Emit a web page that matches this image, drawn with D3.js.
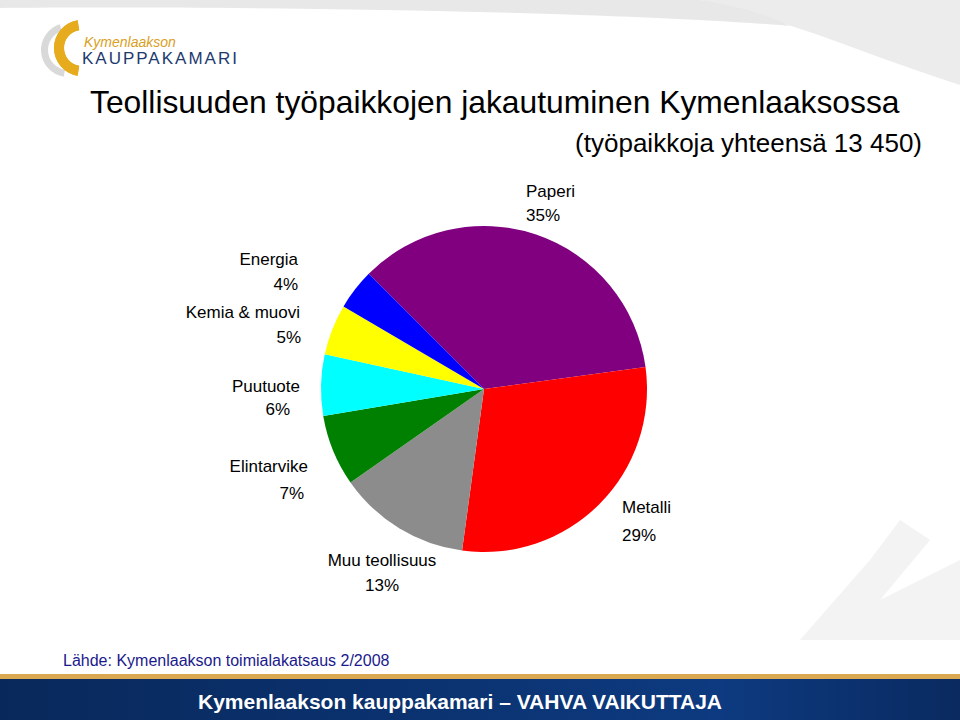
<!DOCTYPE html>
<html><head><meta charset="utf-8">
<script src="https://cdn.jsdelivr.net/npm/d3@7"></script>
<style>body{margin:0;background:#fff}svg{display:block}text{font-family:"Liberation Sans",Arial,sans-serif}</style>
</head><body>
<script>
const categories = ["Paperi","Metalli","Muu teollisuus","Elintarvike","Puutuote","Kemia & muovi","Energia"];
const values = [35,29,13,7,6,5,4];
const pctLabels = ["35%","29%","13%","7%","6%","5%","4%"];
const colors = ["#800080","#ff0000","#8c8c8c","#008000","#00ffff","#ffff00","#0000ff"];
const labelPos = [[526,197,526,221,"start"],[622,513,622,541,"start"],[382,566,382,591,"middle"],[308,472,304,499,"end"],[300,392,290,415,"end"],[300,318,301,343,"end"],[298,265,298,290,"end"]];

const W=960,H=720;
const svg=d3.select("body").append("svg").attr("width",W).attr("height",H);
const defs=svg.append("defs");
const g1=defs.append("linearGradient").attr("id","foot").attr("x1",0).attr("x2",1);
g1.append("stop").attr("offset","0").attr("stop-color","#08285a");
g1.append("stop").attr("offset","0.75").attr("stop-color","#0d3a80");
g1.append("stop").attr("offset","1").attr("stop-color","#0a2a60");

svg.append("path").attr("d","M700,0 H960 V85 C880,60 790,20 700,0 Z").attr("fill","#ececec");
svg.append("path").attr("d","M0,0 H700 C740,6 770,16 790,26 C600,10 200,6 0,8 Z").attr("fill","#e8e8e8");
svg.append("path").attr("d",d3.arc()({innerRadius:20,outerRadius:27,startAngle:Math.PI*1.05,endAngle:Math.PI*1.9})).attr("transform","translate(68,50)").attr("fill","#d9d9d9");
svg.append("path").attr("d",d3.arc()({innerRadius:18,outerRadius:28,startAngle:Math.PI*1.05,endAngle:Math.PI*1.95})).attr("transform","translate(82,48)").attr("fill","#e6ac1e");
svg.append("path").attr("d",d3.arc()({innerRadius:18,outerRadius:28,startAngle:Math.PI*0.05,endAngle:Math.PI*0.95})).attr("transform","translate(82,48) scale(-1,1)").attr("fill","#e6ac1e");
svg.append("text").attr("x",84).attr("y",47).attr("font-size",14).attr("font-style","italic").attr("fill","#d9a01e").text("Kymenlaakson");
svg.append("text").attr("x",82).attr("y",64).attr("font-size",17).attr("letter-spacing",2).attr("fill","#1d3a6e").text("KAUPPAKAMARI");

svg.append("text").attr("x",90).attr("y",113).attr("font-size",31.8).attr("fill","#000").text("Teollisuuden työpaikkojen jakautuminen Kymenlaaksossa");
svg.append("text").attr("x",922).attr("y",152).attr("text-anchor","end").attr("font-size",26).attr("fill","#000").text("(työpaikkoja yhteensä 13 450)");

svg.append("path").attr("d","M800,640 L870,560 L900,520 L930,540 L880,600 L960,560 L960,640 Z").attr("fill","#f3f3f3");

const pie=d3.pie().sort(null).value(d=>d).startAngle(-45*Math.PI/180).endAngle(315*Math.PI/180);
const arc=d3.arc().innerRadius(0).outerRadius(163);
const gp=svg.append("g").attr("transform","translate(484,389)");
gp.selectAll("path").data(pie(values)).join("path").attr("d",arc).attr("fill",(d,i)=>colors[i]);

const lg=svg.append("g");
categories.forEach((c,i)=>{
  const p=labelPos[i];
  lg.append("text").attr("x",p[0]).attr("y",p[1]).attr("text-anchor",p[4]).attr("font-size",17).text(c);
  lg.append("text").attr("x",p[2]).attr("y",p[3]).attr("text-anchor",p[4]).attr("font-size",17).text(pctLabels[i]);
});

svg.append("text").attr("x",63).attr("y",666).attr("font-size",16).attr("fill","#1a1a8c").text("Lähde: Kymenlaakson toimialakatsaus 2/2008");
svg.append("rect").attr("x",0).attr("y",674).attr("width",W).attr("height",5).attr("fill","#d9a850");
svg.append("rect").attr("x",0).attr("y",679).attr("width",W).attr("height",41).attr("fill","url(#foot)");
svg.append("text").attr("x",460).attr("y",709).attr("text-anchor","middle").attr("font-size",21).attr("font-weight","bold").attr("fill","#fff").text("Kymenlaakson kauppakamari – VAHVA VAIKUTTAJA");
</script></body></html>
